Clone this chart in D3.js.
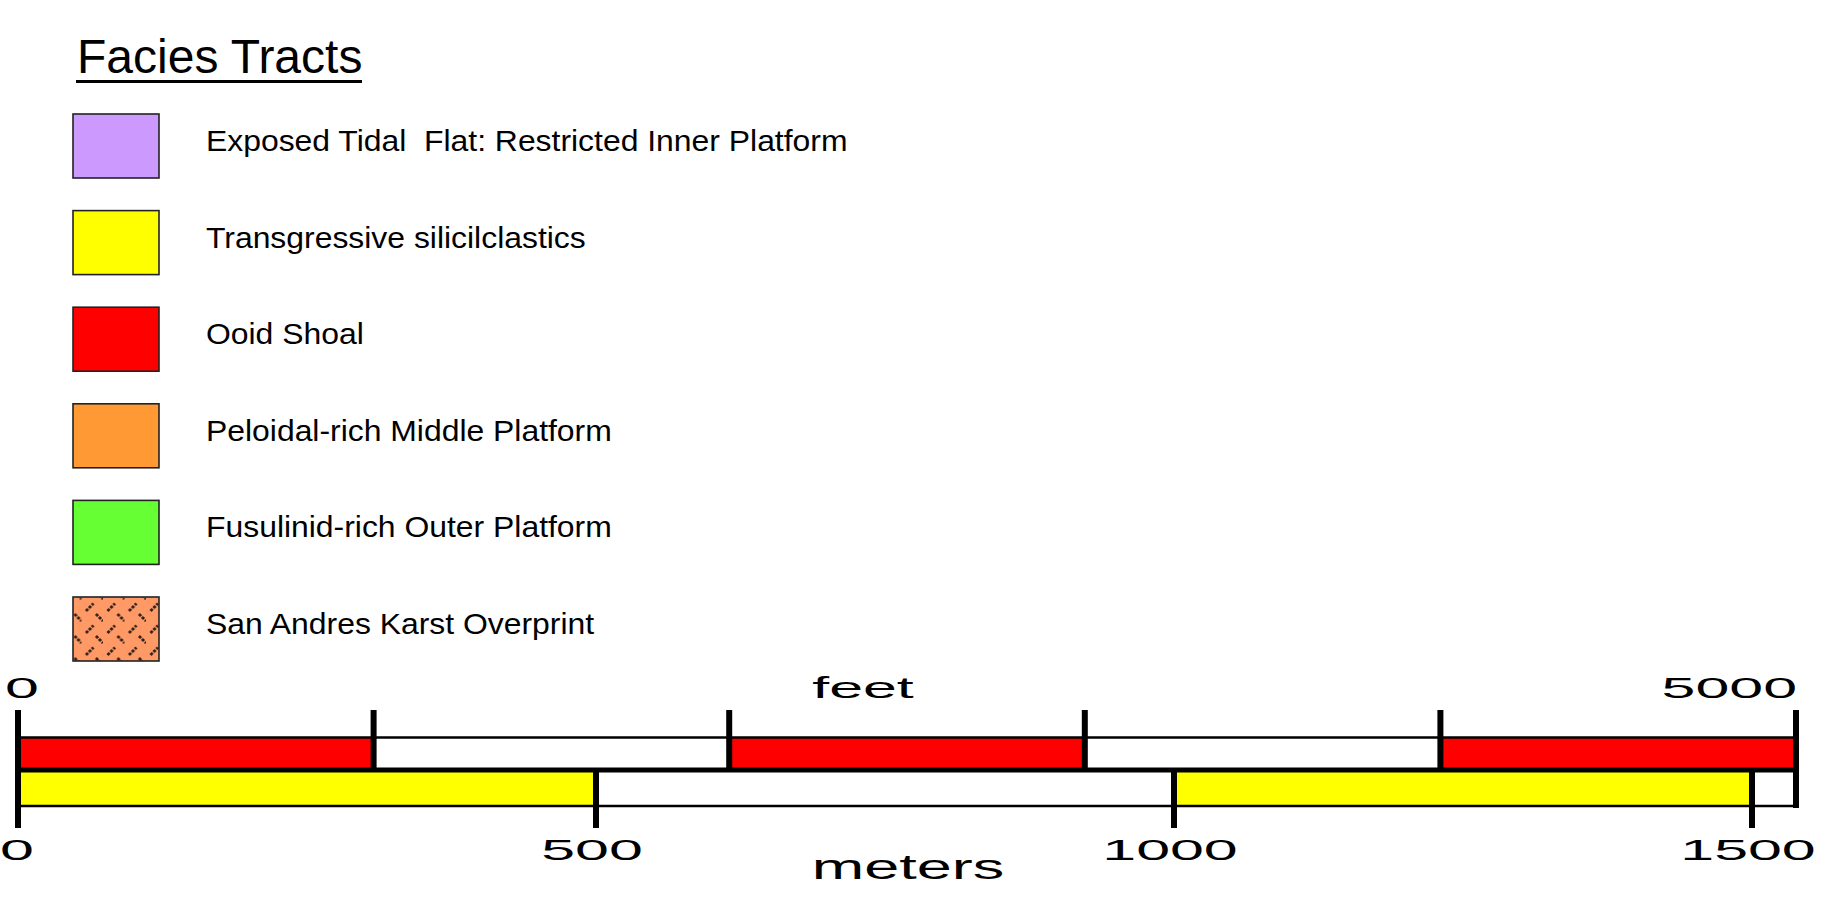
<!DOCTYPE html>
<html>
<head>
  <meta charset="UTF-8">
  <style>
    body {
      margin: 0;
      padding: 0;
      background-color: #fff;
      font-family: "Liberation Sans", Arial, sans-serif;
    }
    svg {
      display: block;
    }
    text {
      white-space: pre;
    }
  </style>
</head>
<body>
<svg></svg>
<script src="https://d3js.org/d3.v7.min.js"></script>

<script>
  let width = 1837, height = 898;

  // legend entries
  let faciesNames = [
    "Exposed Tidal  Flat: Restricted Inner Platform",
    "Transgressive silicilclastics",
    "Ooid Shoal",
    "Peloidal-rich Middle Platform",
    "Fusulinid-rich Outer Platform",
    "San Andres Karst Overprint"
  ];
  let faciesColors = ["#CC99FF", "#FFFF00", "#FF0000", "#FF9933", "#66FF33", "url(#karst)"];

  // scale bar
  let feetTicks = [0, 1000, 2000, 3000, 4000, 5000];
  let feetFills = ["#FF0000", "#FFFFFF", "#FF0000", "#FFFFFF", "#FF0000"];
  let feetLabels = [{ v: 0, t: "0" }, { v: 5000, t: "5000" }];
  let meterTicks = [0, 500, 1000, 1500];
  let meterFills = ["#FFFF00", "#FFFFFF", "#FFFF00", "#FFFFFF"];
  let meterLabels = ["0", "500", "1000", "1500"];

  let svg = d3.select("svg")
      .attr("width", width)
      .attr("height", height);

  // karst pattern: salmon with little dark dashes
  let defs = svg.append("defs");
  let pat = defs.append("pattern")
      .attr("id", "karst")
      .attr("patternUnits", "userSpaceOnUse")
      .attr("x", 73).attr("y", 597)
      .attr("width", 21.5).attr("height", 22);
  pat.append("rect").attr("width", 21.5).attr("height", 22).attr("fill", "#FF9966");
  pat.append("line").attr("x1", 4.5).attr("y1", 11).attr("x2", 12).attr("y2", 3.5)
      .attr("stroke", "#2e2018").attr("stroke-width", 2.8).attr("stroke-dasharray", "3 1.2");
  pat.append("line").attr("x1", 14.5).attr("y1", 14).attr("x2", 21.5).attr("y2", 21)
      .attr("stroke", "#2e2018").attr("stroke-width", 2.8).attr("stroke-dasharray", "3 1.2");

  // title
  svg.append("text")
      .attr("x", 77)
      .attr("y", 73)
      .attr("font-size", "48px")
      .attr("fill", "#000")
      .text("Facies Tracts");
  svg.append("line")
      .attr("x1", 76).attr("x2", 362)
      .attr("y1", 81.5).attr("y2", 81.5)
      .attr("stroke", "#000").attr("stroke-width", 3.2);

  // legend
  let legendY = d3.scalePoint()
      .domain(d3.range(faciesNames.length))
      .range([114, 597]);

  let items = svg.append("g").attr("class", "legend")
      .selectAll("g")
      .data(faciesNames)
      .enter()
      .append("g")
      .attr("transform", (d, i) => `translate(73, ${legendY(i)})`);

  items.append("rect")
      .attr("width", 86)
      .attr("height", 64)
      .attr("fill", (d, i) => faciesColors[i])
      .attr("stroke", "#222")
      .attr("stroke-width", 1.6);

  items.append("text")
      .attr("transform", "translate(133, 37) scale(1.1, 1)")
      .attr("font-size", "29px")
      .attr("fill", "#000")
      .text(d => d);

  // scale bar
  let xFeet = d3.scaleLinear().domain([0, 5000]).range([18, 1796]);
  let xMeter = d3.scaleLinear().domain([0, 1500]).range([18, 1752]);
  let barEnd = xFeet(5000);

  let yTop = 737.5, yMid = 770, yBot = 806;

  let bar = svg.append("g").attr("class", "scalebar");

  bar.selectAll("rect.ft")
      .data(feetFills)
      .enter()
      .append("rect")
      .attr("class", "ft")
      .attr("x", (d, i) => xFeet(feetTicks[i]))
      .attr("width", (d, i) => xFeet(feetTicks[i + 1]) - xFeet(feetTicks[i]))
      .attr("y", yTop)
      .attr("height", yMid - yTop)
      .attr("fill", d => d);

  bar.selectAll("rect.m")
      .data(meterFills)
      .enter()
      .append("rect")
      .attr("class", "m")
      .attr("x", (d, i) => xMeter(meterTicks[i]))
      .attr("width", (d, i) => (i + 1 < meterTicks.length ? xMeter(meterTicks[i + 1]) : barEnd) - xMeter(meterTicks[i]))
      .attr("y", yMid)
      .attr("height", yBot - yMid)
      .attr("fill", d => d);

  // outlines
  [[yTop, 2.6], [yMid, 5], [yBot, 2.6]].forEach(l => {
    bar.append("line")
        .attr("x1", xFeet(0)).attr("x2", barEnd)
        .attr("y1", l[0]).attr("y2", l[0])
        .attr("stroke", "#000").attr("stroke-width", l[1]);
  });

  // feet ticks
  bar.selectAll("line.ftick")
      .data(feetTicks)
      .enter()
      .append("line")
      .attr("class", "ftick")
      .attr("x1", d => xFeet(d)).attr("x2", d => xFeet(d))
      .attr("y1", 710)
      .attr("y2", d => d === 5000 ? 808 : yMid)
      .attr("stroke", "#000").attr("stroke-width", 6);

  // meter ticks
  bar.selectAll("line.mtick")
      .data(meterTicks)
      .enter()
      .append("line")
      .attr("class", "mtick")
      .attr("x1", d => xMeter(d)).attr("x2", d => xMeter(d))
      .attr("y1", d => d === 0 ? 710 : yMid)
      .attr("y2", 828)
      .attr("stroke", "#000").attr("stroke-width", 6);

  // wide lettering for the scale labels
  function wideText(x, y, txt, anchor, size, sx) {
    bar.append("text")
        .attr("transform", `translate(${x}, ${y}) scale(${sx || 2.1}, 1)`)
        .attr("text-anchor", anchor)
        .attr("font-size", (size || 29) + "px")
        .attr("fill", "#000")
        .text(txt);
  }

  wideText(xFeet(0) + 4, 698, feetLabels[0].t, "middle");
  wideText(xFeet(5000) + 1, 698, feetLabels[1].t, "end");
  wideText(863, 698, "feet", "middle");

  meterTicks.forEach((d, i) => wideText(d === 0 ? 17 : xMeter(d) - 4, 860, meterLabels[i], "middle"));
  wideText(908, 879, "meters", "middle", 36, 1.75);
</script>
</body>
</html>
